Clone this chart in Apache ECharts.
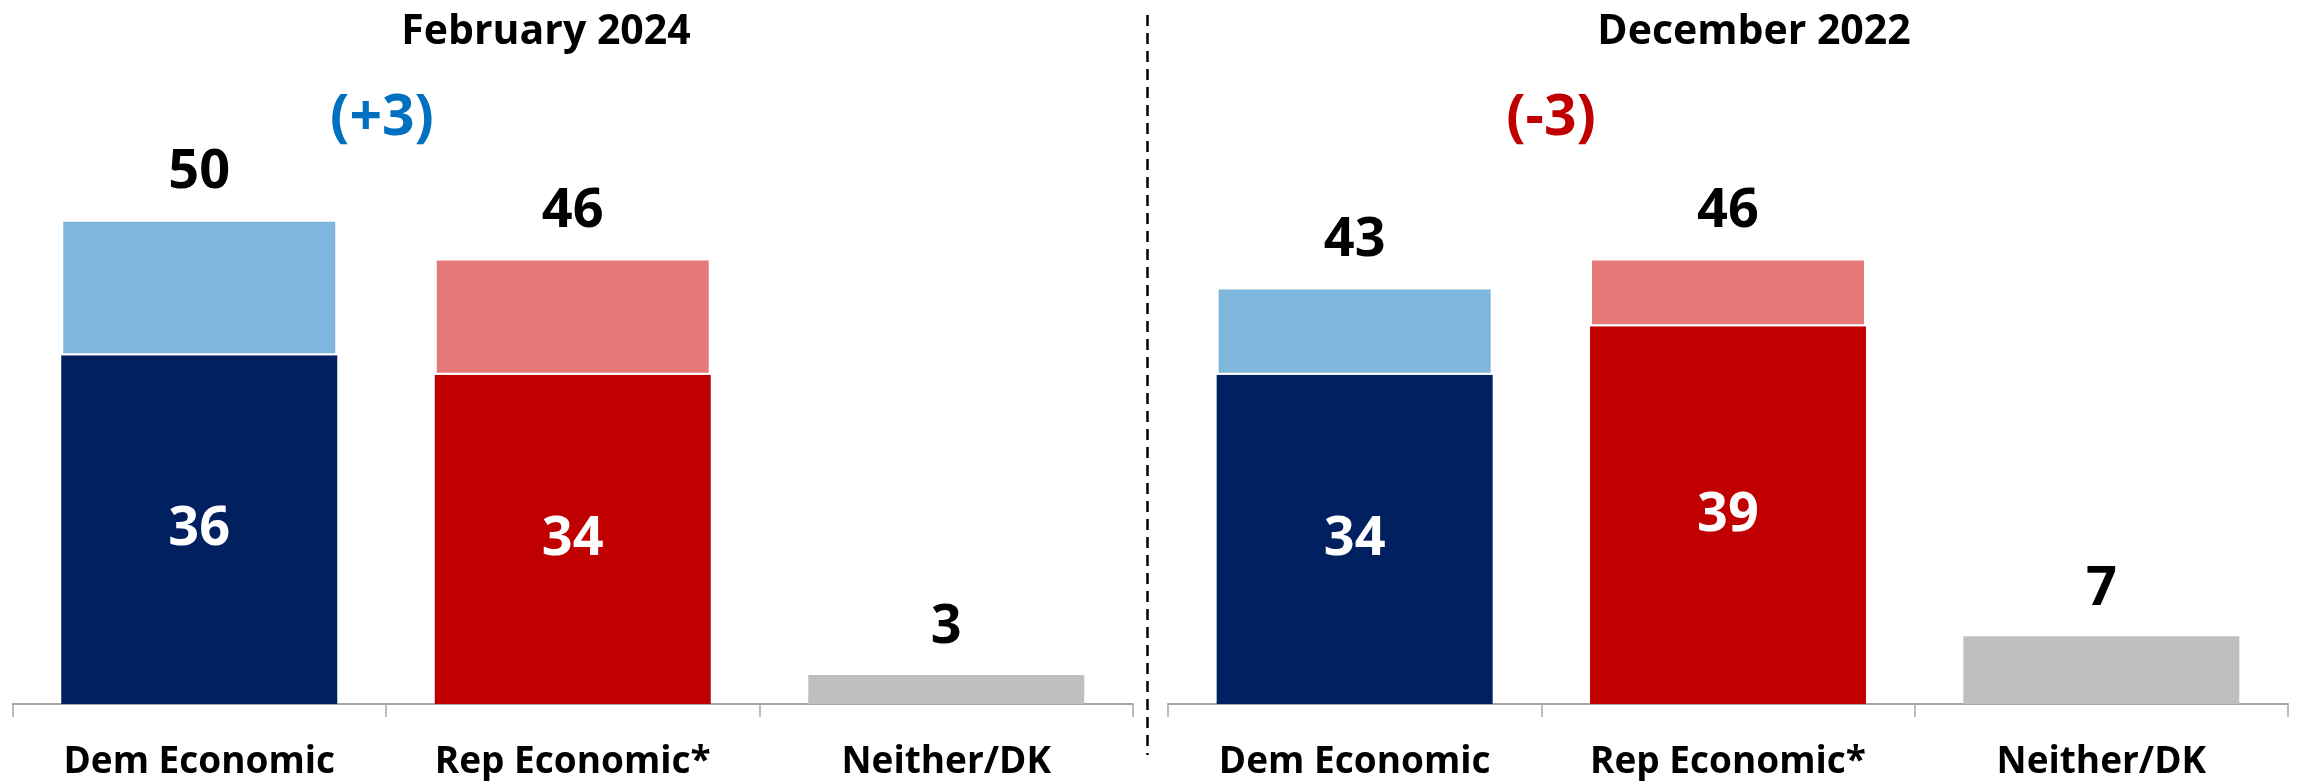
<!DOCTYPE html>
<html>
<head>
<meta charset="utf-8">
<script src="https://cdn.jsdelivr.net/npm/echarts@6/dist/echarts.min.js"></script>
<style>
html,body{margin:0;padding:0;background:#fff;}
#chart{width:2300px;height:781px;}
</style>
</head>
<body>
<div id="chart"></div>
<script>
const categories = ['Dem Economic', 'Rep Economic*', 'Neither/DK'];
const panelTitles = ['February 2024', 'December 2022'];
const feb2024Core = [36, 34, 3];
const feb2024Total = [50, 46, 3];
const dec2022Core = [34, 39, 7];
const dec2022Total = [43, 46, 7];
const changeLabels = ['(+3)', '(-3)'];

const FONT = '"Open Sans", "Noto Sans", sans-serif';
const coreColors = ['#002060', '#C00000', '#BFBFBF'];
const leanColors = ['#7FB6DD', '#E57A78', '#BFBFBF'];
const changeColors = ['#0070C0', '#C00000'];

function panelSeries(core, total, idx) {
  const coreData = core.map((v, i) => ({
    value: v,
    itemStyle: { color: coreColors[i] },
    label: { show: i < 2 }
  }));
  const leanData = total.map((t, i) => ({
    value: t - core[i],
    itemStyle: { color: leanColors[i], borderColor: i < 2 ? '#fff' : leanColors[i], borderWidth: i < 2 ? 2 : 0 }
  }));
  return [
    {
      type: 'bar', xAxisIndex: idx, yAxisIndex: idx, stack: 's' + idx,
      barWidth: 276, data: coreData,
      label: { position: 'inside', color: '#fff', fontFamily: FONT, fontWeight: 'bold', fontSize: 54 },
      silent: true
    },
    {
      type: 'bar', xAxisIndex: idx, yAxisIndex: idx, stack: 's' + idx,
      barWidth: 276, data: leanData,
      label: {
        show: true, position: 'top', distance: 20, color: '#000',
        fontFamily: FONT, fontWeight: 'bold', fontSize: 54,
        formatter: p => String(total[p.dataIndex])
      },
      silent: true
    }
  ];
}

function xAxisFor(idx) {
  return {
    type: 'category', gridIndex: idx, data: categories,
    axisLine: { show: true, lineStyle: { color: '#A6A6A6', width: 2 } },
    axisTick: { show: true, length: 13, lineStyle: { color: '#A6A6A6', width: 1.5 } },
    axisLabel: { color: '#000', fontFamily: FONT, fontWeight: 'bold', fontSize: 37, margin: 40 }
  };
}
function yAxisFor(idx) {
  return { type: 'value', gridIndex: idx, min: 0, max: 60, show: false, splitLine: { show: false } };
}

const chart = echarts.init(document.getElementById('chart'), null, { renderer: 'canvas' });
chart.setOption({
  backgroundColor: '#fff',
  animation: false,
  grid: [
    { left: 12.5, width: 1120.5, top: 122.8, bottom: 75 },
    { left: 1168, width: 1120, top: 122.8, bottom: 75 }
  ],
  xAxis: [xAxisFor(0), xAxisFor(1)],
  yAxis: [yAxisFor(0), yAxisFor(1)],
  series: [
    ...panelSeries(feb2024Core, feb2024Total, 0),
    ...panelSeries(dec2022Core, dec2022Total, 1)
  ],
  graphic: [
    { type: 'text', x: 546, y: 32, style: { text: panelTitles[0], textAlign: 'center', textVerticalAlign: 'middle', fill: '#000', font: 'bold 41px ' + FONT }, silent: true },
    { type: 'text', x: 1754, y: 32, style: { text: panelTitles[1], textAlign: 'center', textVerticalAlign: 'middle', fill: '#000', font: 'bold 41px ' + FONT }, silent: true },
    { type: 'text', x: 382, y: 119, style: { text: changeLabels[0], textAlign: 'center', textVerticalAlign: 'middle', fill: changeColors[0], font: 'bold 57px ' + FONT }, silent: true },
    { type: 'text', x: 1551, y: 119, style: { text: changeLabels[1], textAlign: 'center', textVerticalAlign: 'middle', fill: changeColors[1], font: 'bold 57px ' + FONT }, silent: true },
    { type: 'line', shape: { x1: 1147.5, y1: 15, x2: 1147.5, y2: 755 }, style: { stroke: '#000', lineWidth: 2.5, lineDash: [11, 7] }, silent: true }
  ]
});
</script>
</body>
</html>
